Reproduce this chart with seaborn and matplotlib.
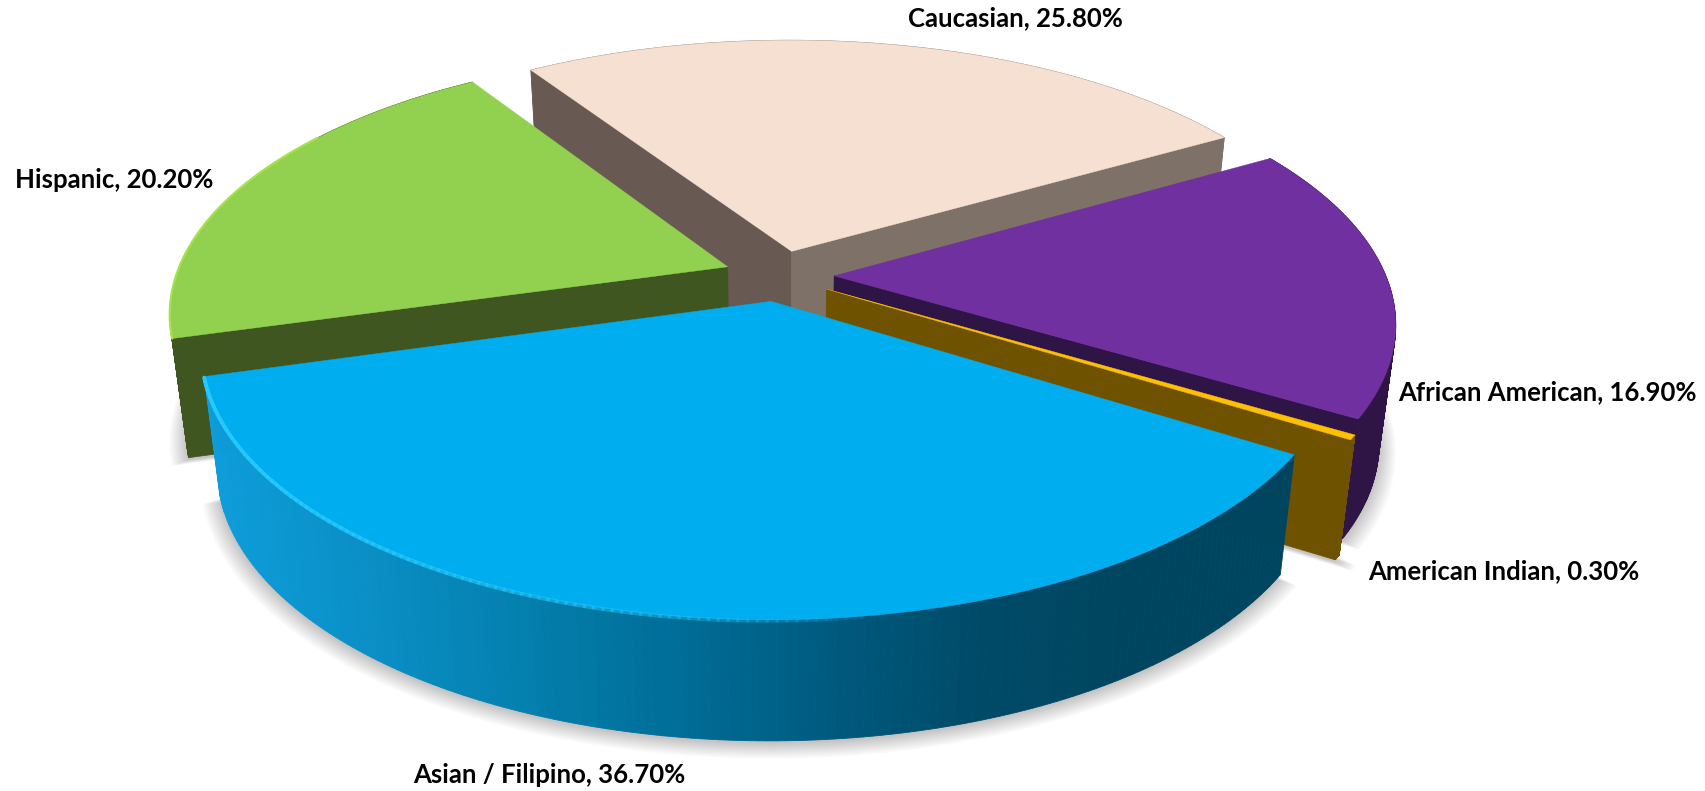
import numpy as np
import matplotlib
matplotlib.use('Agg')
import matplotlib.pyplot as plt
import seaborn as sns

# slices, clockwise starting from the Caucasian one
categories = ['Caucasian', 'African American', 'American Indian', 'Asian / Filipino', 'Hispanic']
shares = [25.8, 16.9, 0.3, 36.7, 20.2]

top_colors = ['#F6E0D2', '#7030A0', '#FFC000', '#00ADEF', '#92D050']
side_colors = ['#7E7268', '#2F1446', '#6F5200', '#00455F', '#3F5620']
wall_colors = ['#685A52', '#2F1446', '#6F5200', '#00455F', '#3F5620']
asian_rim = ['#0D9DDA', '#0A8FC6', '#0480AF', '#006E98', '#005B80', '#004A68', '#00455F', '#00455F']

# pixel spots of the labels (in the 1568 wide picture)
label_spots = [(933, 17), (1422, 360), (1382, 525), (505, 712), (105, 165)]

start_angle = 123
explode = 0.1

# camera for the tilted pie
cx, cy = 716, 253.4
R, S = 507, 234
k = 0.17
D, p, lean = 109, 0.1, 0.028


def project(x, y, t=0.0):
    w = 1 + k * y
    return cx + R * x / (w * (1 + lean * t)), cy - S * y / w + t * D / w ** p


sns.set_theme(style='white')
plt.rcParams['font.family'] = ['Lato', 'DejaVu Sans']

fig = plt.figure(figsize=(17.06, 7.91), dpi=100)
ax = fig.add_axes([0, 0, 1, 1])
ax.set_xlim(0, 1568)
ax.set_ylim(727, 0)
ax.axis('off')

vals = np.array(shares)
sweep = vals / vals.sum() * 360
t2 = start_angle - np.cumsum(sweep)
t1 = t2 + sweep


def arc_pts(i, n=160):
    th = np.radians(np.linspace(t1[i], t2[i], n))
    mid = np.radians((t1[i] + t2[i]) / 2)
    ox, oy = explode * np.cos(mid), explode * np.sin(mid)
    return ox, oy, ox + np.cos(th), oy + np.sin(th)


def soft_shadow(i):
    # stacked see-through copies make a blurred shadow under the rim
    ox, oy, ax_, ay_ = arc_pts(i)
    for g in np.linspace(0.03, 0.0, 12):
        xs = np.r_[ox, ox + (1 + g) * (ax_ - ox), ox]
        ys = np.r_[oy, oy + (1 + g) * (ay_ - oy), oy]
        sx, sy = project(xs, ys, 1.0)
        ax.fill(sx, sy + 2 + g * 120, color='black', alpha=0.018, lw=0)


def draw_slice(i):
    ox, oy, xs, ys = arc_pts(i)
    soft_shadow(i)

    # outer rim, cut in strips so the Asian slice can have its gradient
    xa, ya = project(xs, ys, 0.0)
    xb, yb = project(xs, ys, 1.0)
    grad = sns.blend_palette(asian_rim, 256)
    for q in range(len(xs) - 1):
        if categories[i].startswith('Asian'):
            pos = np.clip((xa[q] - 190) / (1188 - 190), 0, 1)
            col = grad[int(pos * 255)]
        else:
            col = side_colors[i]
        ax.fill([xa[q], xa[q + 1], xb[q + 1], xb[q]], [ya[q], ya[q + 1], yb[q + 1], yb[q]],
                color=col, lw=0.6)

    # flat walls from the centre out to the arc ends, only the ones facing us
    walls = [(0, wall_colors[i], t1[i] + 90), (-1, side_colors[i], t2[i] - 90)]
    for j, col, normal in walls:
        if np.sin(np.radians(normal)) >= 0:
            continue
        xa, ya = project(np.array([ox, xs[j]]), np.array([oy, ys[j]]), 0.0)
        xb, yb = project(np.array([ox, xs[j]]), np.array([oy, ys[j]]), 1.0)
        ax.fill(np.r_[xa, xb[::-1]], np.r_[ya, yb[::-1]], color=col, lw=0.5)

    # top face
    tx, ty = project(np.r_[ox, xs], np.r_[oy, ys], 0.0)
    ax.fill(tx, ty, color=top_colors[i], lw=0.3)


for idx in [0, 4, 1, 2, 3]:
    draw_slice(idx)

# bright edge along the front of the Asian slice, fades out to the right
ox, oy, xs, ys = arc_pts(3)
hx, hy = project(xs, ys, 0.0)
n_h = len(hx)
for q in range(n_h - 1):
    a = 1 - (n_h - 1 - q) / (0.62 * n_h)
    if a > 0:
        ax.plot(hx[q:q + 2], hy[q:q + 2] + 1, color='#25CBFF', lw=2.8, alpha=a ** 0.6,
                solid_capstyle='round')

# thin light edge on the green slice
ox, oy, xs, ys = arc_pts(4)
hx, hy = project(xs, ys, 0.0)
ax.plot(hx[:110], hy[:110], color='#A6E24A', lw=1.6)

for name, val, spot in zip(categories, shares, label_spots):
    ax.text(spot[0], spot[1], f'{name}, {val:.2f}%', ha='center', va='center',
            fontsize=18.5, fontweight='bold', color='black')

fig.savefig('out.png', dpi=100)
